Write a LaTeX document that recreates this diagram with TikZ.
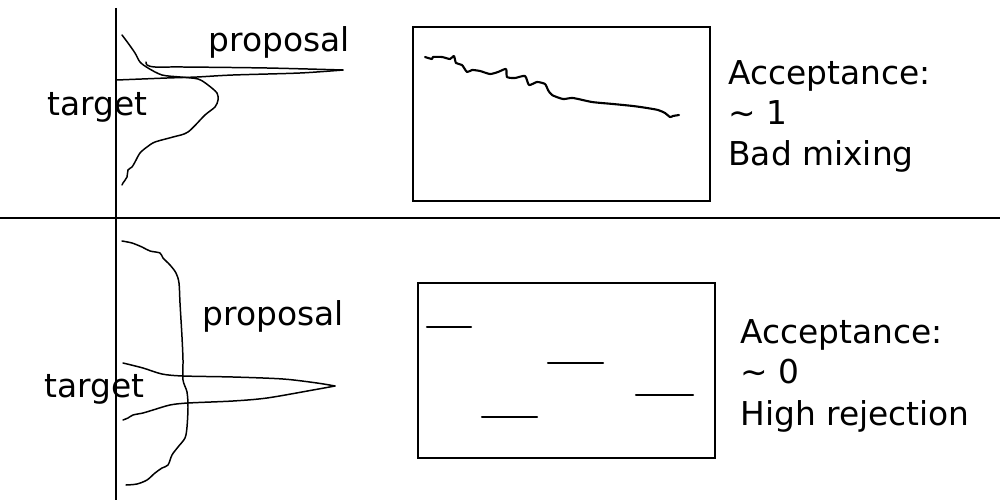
\documentclass[tikz,border=0pt]{standalone}
\usepackage{fontspec}
\setmainfont{DejaVu Sans}
\begin{document}
\begin{tikzpicture}[x=0.02cm,y=-0.02cm,
  lbl/.style={anchor=base west,inner sep=0pt,font=\fontsize{18.7}{22.7}\selectfont,text=black},
  curve/.style={line width=0.85pt,line join=round,line cap=round},
  axis/.style={line width=0.75pt},
  frame/.style={line width=1.1pt},
  chain/.style={line width=1.2pt,line join=round,line cap=round}]
\useasboundingbox (0,0) rectangle (1000,500);
% axes
\draw[axis] (116,8) -- (116,500);
\draw[axis] (0,218) -- (1000,218);
% ---- top row ----
\node[lbl] (prop1) at (208,52) {proposal};
\node[lbl] (targ1) at (47,115) {target};
% target (broad)
\draw[curve] plot[smooth,tension=0.5] coordinates {(122,35) (128,43) (135,53) (140,62) (148,68) (162,75) (180,77) (198,79) (208,85) (217,93) (218,100) (215,107) (205,115) (188,132) (173,137) (155,142) (147,147) (140,153) (135,162) (132,167) (128,170) (127,177) (123,183) (122,185)};
% proposal (narrow)
\draw[curve] plot[smooth,tension=0.5] coordinates {(146,62) (147,65) (155,67) (183,67) (267,68) (343,70)};
\draw[curve] plot[smooth,tension=0.5] coordinates {(343,70) (300,73) (233,75) (197,77) (167,78) (117,80)};
% chain box
\draw[frame] (413,27) rectangle (710,201);
\draw[chain] plot[smooth,tension=0.4] coordinates {(425,57) (432,59) (433,57) (442,57) (450,59) (454,56) (456,63) (462,65) (467,72) (472,70) (480,71) (490,74) (498,72) (506,69) (507,77) (515,78) (525,76) (529,85) (537,82) (545,84) (548,90) (552,95) (563,99) (573,98) (592,102) (613,104) (633,106) (647,108) (658,110) (665,113) (670,117) (673,116) (679,115)};
\node[lbl] (acc1a) at (728,85) {Acceptance:};
\node[lbl] (acc1b) at (728,125) {\textasciitilde{} 1};
\node[lbl] (acc1c) at (728,165) {Bad mixing};
% ---- bottom row ----
\node[lbl] (prop2) at (202,325) {proposal};
\node[lbl] (targ2) at (44,397) {target};
% proposal (broad)
\draw[curve] plot[smooth,tension=0.5] coordinates {(122,241) (132,243) (142,247) (150,251) (160,253) (163,258) (170,265) (176,273) (179,283) (180,303) (182,337) (183,360) (183,380) (187,392) (188,407) (187,427) (185,438) (178,447) (172,455) (168,465) (162,468) (155,473) (147,480) (137,484) (126,485)};
% target (narrow)
\draw[curve] plot[smooth,tension=0.5] coordinates {(123,363) (143,368) (162,374) (183,376) (233,377) (283,379) (317,383) (335,386)};
\draw[curve] plot[smooth,tension=0.5] coordinates {(335,386) (313,390) (267,398) (233,401) (188,403) (170,405) (153,410) (143,413) (133,415) (128,418) (123,420)};
% chain box
\draw[frame] (418,283) rectangle (715,458);
\draw[chain] (427,327) -- (471,327);
\draw[chain] (548,363) -- (603,363);
\draw[chain] (636,395) -- (693,395);
\draw[chain] (482,417) -- (537,417);
\node[lbl] (acc2a) at (740,343) {Acceptance:};
\node[lbl] (acc2b) at (740,383) {\textasciitilde{} 0};
\node[lbl] (acc2c) at (740,425) {High rejection};
\end{tikzpicture}
\end{document}
